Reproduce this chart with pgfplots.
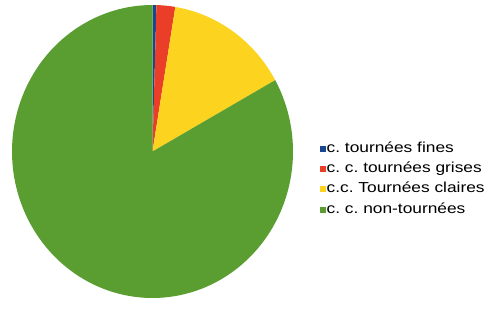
\documentclass[border=0pt]{standalone}
\usepackage{pgfplots}
\pgfplotsset{compat=1.18}
\usepackage{fontspec}
\setmainfont{Liberation Sans}
\newfontfamily\legfont[FakeStretch=1.2]{Liberation Sans}
\frenchspacing
\definecolor{cblue}{RGB}{25,70,145}
\definecolor{cred}{RGB}{234,62,40}
\definecolor{cyellow}{RGB}{252,212,32}
\definecolor{cgreen}{RGB}{90,158,50}
% values (percent)
\def\va{0.45}
\def\vb{2.15}
\def\vc{14.3}
\def\vd{83.1}
\begin{document}
\begin{tikzpicture}
\path[use as bounding box] (0,0) rectangle (497bp,311bp);
\begin{axis}[
  at={(12bp,13bp)}, anchor=south west,
  scale only axis, width=281bp, height=293bp,
  xmin=-1, xmax=1, ymin=-1, ymax=1,
  hide axis, clip=false,
  legend cell align=left,
  legend style={draw=none, fill=none, at={(rel axis cs:1.096,0.534)}, anchor=north west,
    font=\legfont\fontsize{14.5}{15}\selectfont, row sep=6.3bp, inner sep=0pt,
    nodes={inner sep=0.5bp, text height=10bp, text depth=3bp},
    /tikz/every even column/.append style={column sep=1bp}},
  legend image code/.code={\fill[#1] (0bp,-3bp) rectangle (6bp,3bp);},
]
\pgfmathsetmacro{\aA}{90}
\pgfmathsetmacro{\aB}{90-3.6*\va}
\pgfmathsetmacro{\aC}{90-3.6*(\va+\vb)}
\pgfmathsetmacro{\aD}{90-3.6*(\va+\vb+\vc)}
\pgfmathsetmacro{\aE}{90-3.6*(\va+\vb+\vc+\vd)}
\addplot[fill=cblue, draw=none, samples=5, domain=\aB:\aA, variable=\t] ({cos(\t)},{sin(\t)}) -- (axis cs:0,0) -- cycle;
\addplot[fill=cred, draw=none, samples=8, domain=\aC:\aB, variable=\t] ({cos(\t)},{sin(\t)}) -- (axis cs:0,0) -- cycle;
\addplot[fill=cyellow, draw=none, samples=30, domain=\aD:\aC, variable=\t] ({cos(\t)},{sin(\t)}) -- (axis cs:0,0) -- cycle;
\addplot[fill=cgreen, draw=none, samples=150, domain=\aE:\aD, variable=\t] ({cos(\t)},{sin(\t)}) -- (axis cs:0,0) -- cycle;
\legend{c. tournées fines, c. c. tournées grises, c.c. Tournées claires, c. c. non-tournées}
\end{axis}
\end{tikzpicture}
\end{document}
